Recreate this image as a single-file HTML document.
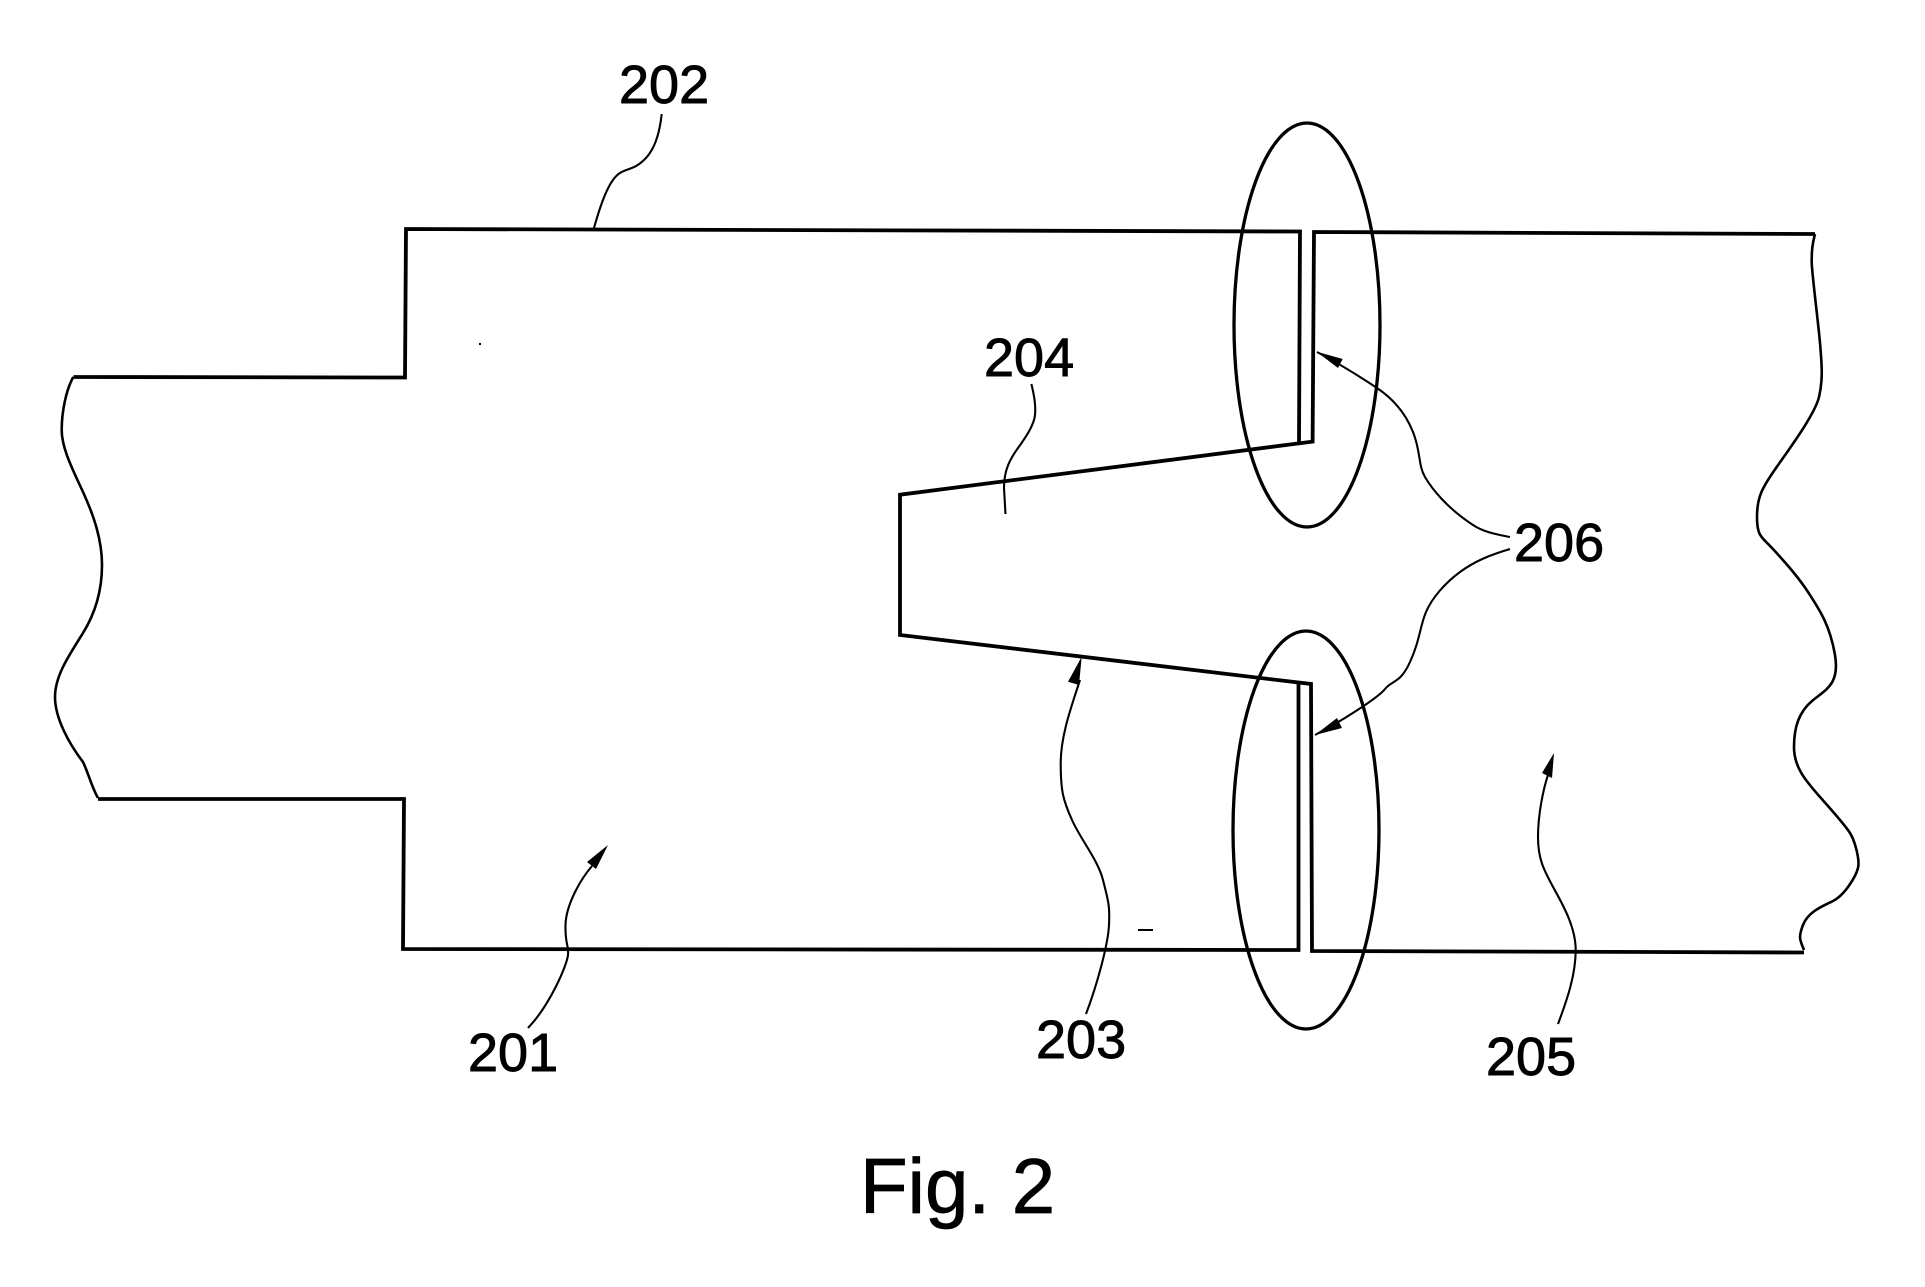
<!DOCTYPE html>
<html>
<head>
<meta charset="utf-8">
<style>
html,body{margin:0;padding:0;background:#fff;width:1925px;height:1287px;overflow:hidden}
svg{display:block}
text{font-family:"Liberation Sans",sans-serif;fill:#000;stroke:#000}
.m{fill:none;stroke:#000;stroke-width:3.8;stroke-linejoin:miter}
.e{fill:none;stroke:#000;stroke-width:3.3}
.l{fill:none;stroke:#000;stroke-width:2.1}
.w{fill:none;stroke:#000;stroke-width:2.6}
.n{font-size:54px;stroke-width:.9}
</style>
</head>
<body>
<svg width="1925" height="1287" viewBox="0 0 1925 1287" xmlns="http://www.w3.org/2000/svg">
<rect width="1925" height="1287" fill="#fff"/>
<!-- main outline -->
<polyline class="m" points="73.5,377 405,377.5 406,229 1300,231.5 1299,441.6"/>
<polyline class="m" points="98,799 404,799 403,949 1298.5,950 1298.5,684"/>
<polyline class="m" points="1815,234 1314,232 1312.6,441.6 900,494.7 900,635 1311,684 1312,951 1804,952.5"/>
<!-- wavy breaks -->
<path class="w" d="M73.3 377C66 390 61.7 412 61.7 430S72 468 83 492S102 540 102 565S96 612 83 633S55 675 55 697S70 745 83 762C88 772 92 788 98 798"/>
<path class="w" d="M1815 234C1812 245 1811.7 252 1811.7 262S1818 320 1820 343S1823 380 1819 397S1790 448 1776 468S1757 497 1757 517S1762 537 1772 548S1797 575 1808 592S1830 625 1835 655S1825 690 1812 701S1794 727 1794 747S1805 780 1820 797S1845 825 1850 833S1860 860 1858 868S1845 895 1833 901S1808 912 1803 925S1800 940 1804 950"/>
<!-- ellipses -->
<ellipse class="e" cx="1307" cy="325" rx="73" ry="202"/>
<ellipse class="e" cx="1306" cy="830" rx="73" ry="199"/>
<!-- leaders -->
<path class="l" d="M661.7 114C660 130 656 148 645 159S628 168 620 173S604 192 594 228"/>
<path class="l" d="M1031.4 384C1034 395 1036 405 1035 415S1026 437 1018 448S1004 470 1004 488L1005.5 514"/>
<path class="l" d="M1317 352C1340 364 1362 378 1377 388S1405 412 1413 432S1418 465 1425 477S1447 508 1473 525C1485 533 1500 535 1510 537"/>
<path class="l" d="M1510 549C1490 555 1475 561 1460 572S1432 598 1426 612S1420 640 1410 662S1392 680 1385 689S1340 722 1315 735"/>
<path class="l" d="M1080 680C1072 705 1060.7 735 1060.7 763S1063 800 1072 820S1098 860 1103 880S1110 905 1109 925S1097 985 1086 1014"/>
<path class="l" d="M1548 775C1543 790 1538 815 1538 837S1544 870 1552 885S1575.7 925 1575.7 950S1567 1000 1558 1024"/>
<path class="l" d="M592 866C580 880 566 905 565.5 925S569 945 568 955S550 1005 528 1028"/>
<!-- arrowheads -->
<polygon points="1316.7,351.7 1342.7,359 1338,368"/>
<polygon points="1315,735 1337,718 1342,728"/>
<polygon points="1081.7,656.7 1068,681.7 1079,685"/>
<polygon points="1554,753 1542,773 1552,778"/>
<polygon points="608,845 587,862 596,869"/>
<!-- specks -->
<rect x="479" y="343" width="2" height="2" fill="#000"/>
<rect x="1138" y="929" width="15" height="2" fill="#000"/>
<!-- labels -->
<text class="n" x="619" y="103">202</text>
<text class="n" x="984" y="376">204</text>
<text class="n" x="1514" y="561">206</text>
<text class="n" x="468" y="1071">201</text>
<text class="n" x="1036" y="1058">203</text>
<text class="n" x="1486" y="1075">205</text>
<text x="860" y="1213" font-size="78" stroke-width=".8">Fig. 2</text>
</svg>
</body>
</html>
